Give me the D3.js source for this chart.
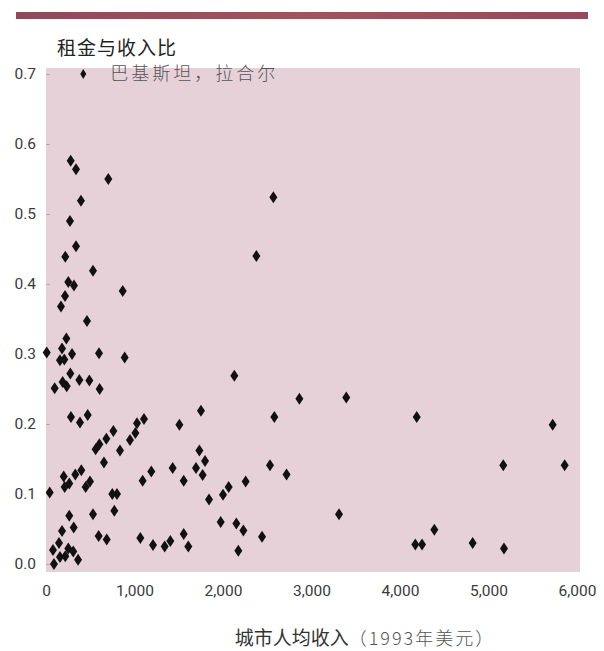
<!DOCTYPE html>
<html>
<head>
<meta charset="utf-8">
<script src="https://cdn.jsdelivr.net/npm/d3@7"></script>
<style>
  html, body { margin: 0; padding: 0; background: #ffffff; }
  svg { display: block; }
</style>
</head>
<body>
<svg id="chart" width="604" height="651"></svg>
<script>
// ---- data ----
const income = [
  279, 339, 704, 395, 2569, 271, 339, 218, 2377, 531, 252, 316, 867, 215, 169, 463, 230,
  8, 181, 158, 207, 294, 599, 889, 275, 188, 234, 98, 377, 490, 606, 2128, 2863, 3393,
  1751, 2580, 282, 384, 471, 1507, 1107, 1028, 1010, 949, 761, 682, 603, 561, 836, 655,
  1733, 1797, 1695, 1770, 1431, 1190, 1092, 1556, 2531, 2718, 2256, 2064, 2000, 1842,
  399, 331, 200, 263, 211, 497, 448, 42, 802, 749, 772, 531, 263, 313, 181, 595, 686,
  1066, 1209, 1341, 1405, 1556, 1608, 1974, 2151, 2230, 2441, 2173, 147, 79, 158, 218,
  252, 308, 362, 90, 4189, 5725, 5167, 5861, 3311, 4388, 4173, 4249, 4821, 5175
];
const ratio = [
  0.576, 0.564, 0.550, 0.519, 0.524, 0.490, 0.454, 0.439, 0.440, 0.419, 0.403, 0.398, 0.390, 0.383, 0.368, 0.347, 0.322,
  0.302, 0.308, 0.291, 0.292, 0.300, 0.301, 0.295, 0.272, 0.260, 0.254, 0.251, 0.263, 0.262, 0.250, 0.269, 0.236, 0.238,
  0.219, 0.210, 0.210, 0.202, 0.213, 0.199, 0.207, 0.201, 0.187, 0.177, 0.190, 0.179, 0.171, 0.164, 0.162, 0.145,
  0.162, 0.147, 0.137, 0.127, 0.137, 0.132, 0.119, 0.119, 0.141, 0.128, 0.118, 0.110, 0.099, 0.092,
  0.134, 0.128, 0.125, 0.115, 0.110, 0.118, 0.110, 0.102, 0.100, 0.100, 0.076, 0.071, 0.069, 0.052, 0.047, 0.040, 0.035,
  0.037, 0.027, 0.025, 0.033, 0.043, 0.025, 0.060, 0.058, 0.048, 0.039, 0.019, 0.030, 0.020, 0.010, 0.011,
  0.022, 0.018, 0.006, 0.000, 0.210, 0.199, 0.141, 0.141, 0.071, 0.049, 0.028, 0.028, 0.030, 0.022
];
const highlightIncome = [421];
const highlightRatio = [0.700];
const highlightLabel = ["巴基斯坦，拉合尔"];

const xTicks = [0, 1000, 2000, 3000, 4000, 5000, 6000];
const yTicks = [0, 0.1, 0.2, 0.3, 0.4, 0.5, 0.6, 0.7];

const titleText = "租金与收入比";
const xTitleMain = "城市人均收入";
const xTitleParen = "（1993年美元）";

// ---- drawing ----
const svg = d3.select("#chart");
const x = d3.scaleLinear().domain([0, 6000]).range([46, 577]);
const y = d3.scaleLinear().domain([0, 0.7]).range([564, 74]);

// top bar
const grad = svg.append("defs").append("linearGradient").attr("id", "barGrad");
grad.append("stop").attr("offset", "0%").attr("stop-color", "#8e4a5c");
grad.append("stop").attr("offset", "50%").attr("stop-color", "#a1545a");
grad.append("stop").attr("offset", "100%").attr("stop-color", "#97485a");
svg.append("rect").attr("x", 16).attr("y", 12).attr("width", 572).attr("height", 7)
  .attr("fill", "url(#barGrad)");

// plot background
svg.append("rect").attr("x", 46).attr("y", 68).attr("width", 534).attr("height", 504)
  .attr("fill", "#e6d1d9");

// title
svg.append("text").attr("x", 57).attr("y", 55)
  .attr("font-family", "'Noto Sans CJK SC', sans-serif").attr("font-size", 19)
  .attr("letter-spacing", 1)
  .attr("fill", "#222").text(titleText);

// y axis
const yAxis = d3.axisLeft(y).tickValues(yTicks).tickFormat(d3.format(".1f"))
  .tickSize(4).tickPadding(10);
const gy = svg.append("g").attr("transform", "translate(50,0)").call(yAxis);
gy.select(".domain").remove();
gy.selectAll(".tick line").attr("stroke", "#b9a9ae");
gy.selectAll(".tick text").attr("font-family", "Roboto, 'Noto Sans', sans-serif")
  .attr("font-size", 15.5).attr("fill", "#3a3a3a");

// x axis
const xAxis = d3.axisBottom(x).tickValues(xTicks).tickFormat(d3.format(","))
  .tickSize(0).tickPadding(14);
const gx = svg.append("g").attr("transform", "translate(0,571)").call(xAxis);
gx.select(".domain").remove();
gx.selectAll(".tick text").attr("font-family", "Roboto, 'Noto Sans', sans-serif")
  .attr("font-size", 15.5).attr("fill", "#3a3a3a");

// x title
const xt = svg.append("text").attr("x", 365).attr("y", 645).attr("text-anchor", "middle")
  .attr("font-family", "'Noto Sans CJK SC', sans-serif").attr("font-size", 19).attr("fill", "#333");
xt.append("tspan").text(xTitleMain);
xt.append("tspan").attr("fill", "#555").attr("font-size", 18).attr("font-weight", 300)
  .attr("letter-spacing", 2).text(xTitleParen);

// diamonds
const diamond = "M0,-6L4,0L0,6L-4,0Z";
const pts = income.map((v, i) => ({ x: v, y: ratio[i] }));
svg.append("g").selectAll("path").data(pts).join("path")
  .attr("d", diamond)
  .attr("transform", d => `translate(${x(d.x)},${y(d.y)})`)
  .attr("fill", "#111");

// highlighted point with label
const hl = highlightIncome.map((v, i) => ({ x: v, y: highlightRatio[i], label: highlightLabel[i] }));
svg.append("g").selectAll("path").data(hl).join("path")
  .attr("d", "M0,-5L3,0L0,5L-3,0Z")
  .attr("transform", d => `translate(${x(d.x)},${y(d.y)})`)
  .attr("fill", "#111");
svg.append("g").selectAll("text").data(hl).join("text")
  .attr("x", d => x(d.x) + 27).attr("y", d => y(d.y) + 6)
  .attr("font-family", "'Noto Sans CJK SC', serif").attr("font-size", 18)
  .attr("font-weight", 300).attr("letter-spacing", 3)
  .attr("fill", "#555").text(d => d.label);
</script>
</body>
</html>
